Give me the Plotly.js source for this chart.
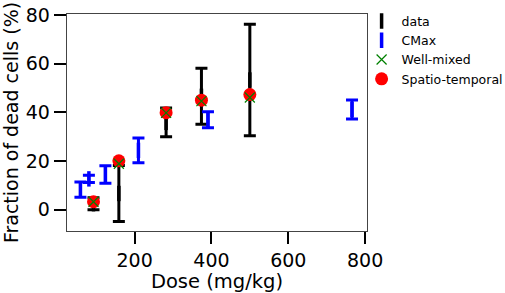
<!DOCTYPE html>
<html>
<head>
<script src="https://cdn.plot.ly/plotly-3.0.1.min.js"></script>
<style>html,body{margin:0;padding:0;background:#fff;}#chart{width:505px;height:293px;}</style>
</head>
<body>
<div id="chart"></div>
<script>
// Experimental data (black error bars)
const dataDose = [93, 159, 282, 374, 500];
const dataMean = [2.5, 6.7, 35.9, 46.6, 53.3];
const dataErr  = [2.5, 11.5, 5.9, 11.5, 22.9];

// CMax (blue error bars)
const cmaxDose = [59, 81, 124, 210, 391, 766];
const cmaxMean = [8.3, 12.7, 14.5, 24.4, 37.0, 41.2];
const cmaxErr  = [3.1, 1.5, 3.6, 5.1, 3.3, 3.9];

// Model predictions
const modelDose = [93, 159, 282, 374, 500];
const wellMixed = [3.3, 18.9, 39.8, 44.6, 46.1];
const spatioTemporal = [3.3, 20.1, 39.9, 45.0, 47.3];

const xTicks = [200, 400, 600, 800];
const yTicks = [0, 20, 40, 60, 80];

const FONT = 'DejaVu Sans, sans-serif';

const traces = [
  {
    x: dataDose, y: dataMean, name: 'data', type: 'scatter', mode: 'markers',
    marker: {symbol: 'line-ns-open', size: 11, color: 'black', line: {width: 3.5, color: 'black'}},
    error_y: {type: 'data', array: dataErr, visible: true, color: 'black', thickness: 3, width: 6}
  },
  {
    x: cmaxDose, y: cmaxMean, name: 'CMax', type: 'scatter', mode: 'markers',
    marker: {symbol: 'line-ns-open', size: 11, color: 'blue', line: {width: 3.5, color: 'blue'}},
    error_y: {type: 'data', array: cmaxErr, visible: true, color: 'blue', thickness: 3, width: 6}
  },
  {
    x: modelDose, y: spatioTemporal, name: 'Spatio-temporal', type: 'scatter', mode: 'markers',
    marker: {symbol: 'circle', size: 13, color: 'red'}, showlegend: false
  },
  {
    x: modelDose, y: wellMixed, name: 'Well-mixed', type: 'scatter', mode: 'markers',
    marker: {symbol: 'x-thin-open', size: 10, color: 'green', line: {width: 1.2, color: 'green'}}
  },
  {
    x: [null], y: [null], name: 'Spatio-temporal', type: 'scatter', mode: 'markers',
    marker: {symbol: 'circle', size: 13, color: 'red'}
  }
];

const layout = {
  width: 505, height: 293,
  margin: {l: 67, r: 138, t: 14, b: 62, autoexpand: false},
  paper_bgcolor: 'white', plot_bgcolor: 'white',
  font: {family: FONT, color: 'black', size: 19},
  showlegend: true,
  legend: {x: 0.982, y: 1.035, xanchor: 'left', yanchor: 'top', font: {family: FONT, size: 12.5, color: 'black'},
           bgcolor: 'rgba(0,0,0,0)', tracegroupgap: 0, itemwidth: 30, traceorder: 'normal'},
  xaxis: {
    range: [24, 805], tickvals: xTicks, ticktext: xTicks.map(String),
    showgrid: false, zeroline: false, showline: true, mirror: true,
    linecolor: '#444', linewidth: 1.3,
    ticks: 'outside', ticklen: 12, tickwidth: 2, tickcolor: 'black',
    tickfont: {family: FONT, size: 19},
    title: {text: 'Dose (mg/kg)', font: {family: FONT, size: 19.5}, standoff: 2}
  },
  yaxis: {
    range: [-8.7, 80.4], tickvals: yTicks, ticktext: yTicks.map(String),
    showgrid: false, zeroline: false, showline: true, mirror: true,
    linecolor: '#444', linewidth: 1.3,
    ticks: 'outside', ticklen: 12, tickwidth: 2, tickcolor: 'black',
    tickfont: {family: FONT, size: 19},
    title: {text: 'Fraction of dead cells (%)', font: {family: FONT, size: 19}, standoff: 2}
  }
};

Plotly.newPlot('chart', traces, layout, {displayModeBar: false, staticPlot: true});
</script>
</body>
</html>
